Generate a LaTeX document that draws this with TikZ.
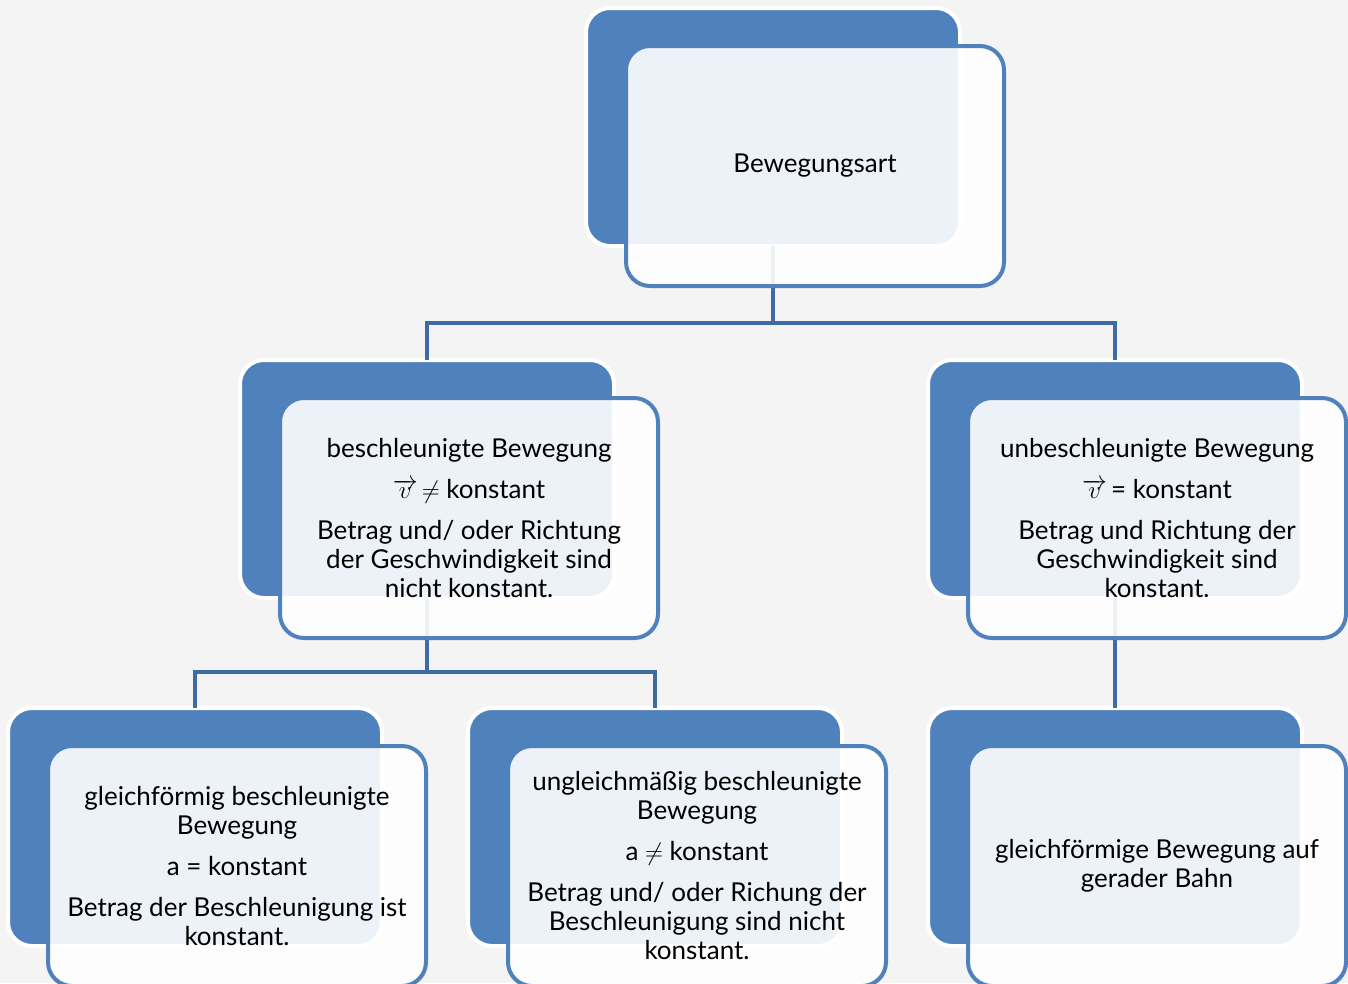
\documentclass[tikz,border=0pt]{standalone}
\usepackage{fontspec}
\setmainfont{Lato}
\usetikzlibrary{calc}
\definecolor{bgc}{HTML}{F4F4F4}
\definecolor{acc}{HTML}{4F81BD}
\definecolor{lnc}{HTML}{3F6AA3}
\begin{document}
\begin{tikzpicture}[x=1pt,y=-1pt,
 backbox/.style={draw=white,line width=4pt,fill=acc,rounded corners=24pt,minimum width=374pt,minimum height=238pt,anchor=north west,inner sep=0pt,outer sep=0pt},
 frontbox/.style={draw=acc,line width=4pt,fill=white,fill opacity=0.9,text opacity=1,rounded corners=24pt,minimum width=378pt,minimum height=240pt,anchor=north west,align=center,font=\fontsize{26}{29}\selectfont,inner sep=0pt,outer sep=0pt},
 conn/.style={draw=lnc,line width=4pt}]
\useasboundingbox (0,0) rectangle (1348,983);
\clip (0,0) rectangle (1348,983);
\fill[bgc] (0,0) rectangle (1348,983);
% back boxes
\node[backbox] (topb) at (586,8) {};
\node[backbox] (lb) at (240,360) {};
\node[backbox] (rb) at (928,360) {};
\node[backbox] (llb) at (8,708) {};
\node[backbox] (lmb) at (468,708) {};
\node[backbox] (rrb) at (928,708) {};
% connectors
\coordinate (j1) at (773,323);
\coordinate (j2) at (427,672);
\draw[conn] (topb.south) -- (topb.south |- j1);
\draw[conn] (lb.north) -- (lb.north |- j1) -- (rb.north |- j1) -- (rb.north);
\draw[conn] (lb.south) -- (lb.south |- j2);
\draw[conn] (llb.north) -- (llb.north |- j2) -- (lmb.north |- j2) -- (lmb.north);
\draw[conn] (rb.south) -- (rrb.north);
% front boxes
\node[frontbox] (top) at (626,46) {\raisebox{-3pt}{Bewegungsart}};
\node[frontbox] (l) at (280,398) {beschleunigte Bewegung\\[12pt]$\overrightarrow{v}\,{\neq}$ konstant\\[12pt]Betrag und/ oder Richtung\\der Geschwindigkeit sind\\nicht konstant.};
\node[frontbox] (r) at (968,398) {unbeschleunigte Bewegung\\[12pt]$\overrightarrow{v}\,$= konstant\\[12pt]Betrag und Richtung der\\Geschwindigkeit sind\\konstant.};
\node[frontbox] (ll) at (48,746) {gleichförmig beschleunigte\\Bewegung\\[12pt]a = konstant\\[12pt]Betrag der Beschleunigung ist\\konstant.};
\node[frontbox] (lm) at (508,746) {ungleichmäßig beschleunigte\\Bewegung\\[12pt]a $\neq$ konstant\\[12pt]Betrag und/ oder Richung der\\Beschleunigung sind nicht\\konstant.};
\node[frontbox] (rr) at (968,746) {gleichförmige Bewegung auf\\gerader Bahn};
\end{tikzpicture}
\end{document}
